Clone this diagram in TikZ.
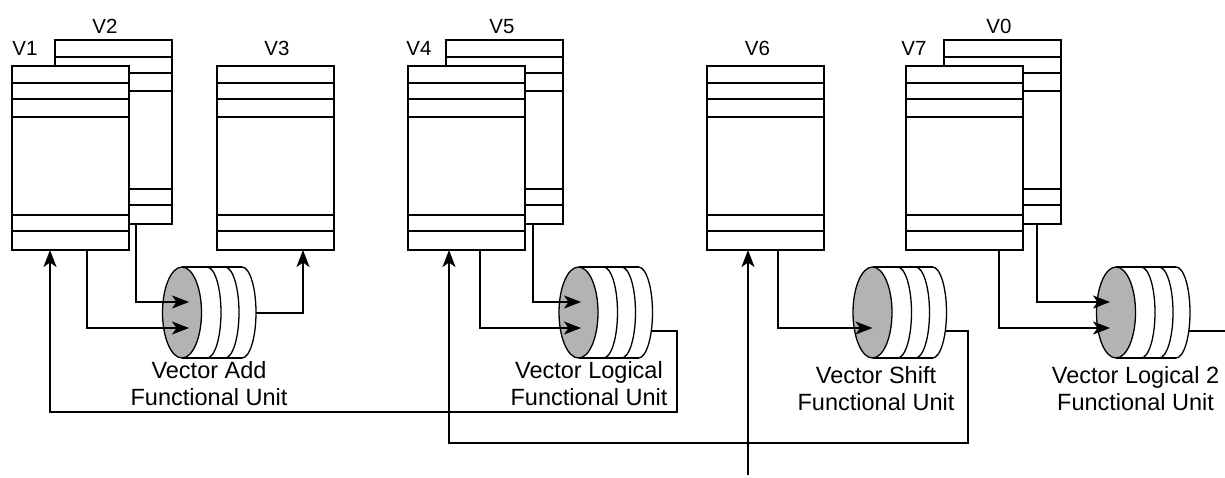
\documentclass[tikz,border=0pt]{standalone}
\usepackage{fontspec}
\setmainfont{Liberation Sans}
\usetikzlibrary{shapes.geometric,calc,arrows.meta}
\definecolor{unitgray}{RGB}{179,179,179}
\tikzset{
  regbox/.style={draw, fill=white, line width=2pt, minimum width=117pt, minimum height=184pt, inner sep=0pt, outer sep=0pt},
  regline/.style={line width=2pt},
  unitell/.style={ellipse, draw, fill=unitgray, line width=1.3pt, minimum width=39pt, minimum height=91pt, inner sep=0pt, outer sep=0pt},
  unitline/.style={line width=1.3pt},
  conn/.style={line width=2pt},
  arr/.style={conn, -{Stealth[length=17pt,width=13pt,inset=4.5pt]}},
  vlabel/.style={font=\fontsize{20.5}{24}\selectfont, anchor=base, inner sep=0pt},
  ulabel/.style={font=\fontsize{23.5}{28}\selectfont, anchor=base, inner sep=0pt},
}
\newcommand\regfile[3]{%
  \node[regbox, anchor=north west] (#1) at (#2,-#3) {};
  \foreach \dy in {17,33,51,149,165}{%
    \draw[regline] ($(#1.north west)+(0,-\dy)$) -- ($(#1.north east)+(0,-\dy)$);}
}
\newcommand\funit[2]{%
  \node[unitell] (#1) at (#2,-312.5) {};
  \draw[unitline] (#1.north) -- ++(60,0) (#1.south) -- ++(60,0);
  \foreach \ox in {25,43,60}{%
    \draw[unitline] ($(#1.north)+(\ox,0)$) arc[start angle=90,end angle=-90,x radius=14pt,y radius=45.5pt];}
}
\begin{document}
\begin{tikzpicture}[x=1pt,y=1pt]
\useasboundingbox (0,0) rectangle (1225,-477);
% register files (back ones first)
\regfile{V2}{55}{40}
\regfile{V1}{12}{66}
\regfile{V3}{217}{66}
\regfile{V5}{446}{40}
\regfile{V4}{408}{66}
\regfile{V6}{707}{66}
\regfile{V0}{944}{40}
\regfile{V7}{906}{66}
% labels
\node[vlabel] (lV1) at (25,-55) {V1};
\node[vlabel] (lV2) at (105,-33) {V2};
\node[vlabel] (lV3) at (277,-55) {V3};
\node[vlabel] (lV4) at (419,-55) {V4};
\node[vlabel] (lV5) at (502,-33) {V5};
\node[vlabel] (lV6) at (757.5,-55) {V6};
\node[vlabel] (lV7) at (914,-55) {V7};
\node[vlabel] (lV0) at (999,-33) {V0};
% functional units
\funit{addU}{182}
\funit{logU}{578.5}
\funit{shU}{872.5}
\funit{ltwoU}{1116}
\node[ulabel] (addL1) at (209,-378) {Vector Add};
\node[ulabel] (addL2) at (209,-405) {Functional Unit};
\node[ulabel] (logL1) at (589,-378) {Vector Logical};
\node[ulabel] (logL2) at (589,-405) {Functional Unit};
\node[ulabel] (shL1) at (876,-383) {Vector Shift};
\node[ulabel] (shL2) at (876,-410) {Functional Unit};
\node[ulabel] (ltwoL1) at (1135.5,-383) {Vector Logical 2};
\node[ulabel] (ltwoL2) at (1135.5,-410) {Functional Unit};
% connectors: add unit
\draw[arr] ($(V2.south west)+(81,0)$) |- ($(addU.center)+(7,10.5)$);
\draw[arr] ($(V1.south west)+(75,0)$) |- ($(addU.center)+(7,-15.5)$);
\draw[arr] ($(addU.center)+(74,0)$) -| ($(V3.south west)+(86,0)$);
% logical unit
\draw[arr] ($(V5.south west)+(87,0)$) |- ($(logU.center)+(2.5,10.5)$);
\draw[arr] ($(V4.south west)+(72,0)$) |- ($(logU.center)+(2.5,-15.5)$);
\coordinate (fbA) at (677,-412);
\draw[arr] ($(logU.center)+(73,-18.5)$) -| (fbA) -| ($(V1.south west)+(38,0)$);
% shift unit
\draw[arr] ($(V6.south west)+(71,0)$) |- ($(shU.center)+(0,-15.5)$);
\coordinate (fbB) at (968,-443);
\draw[arr] ($(shU.center)+(73,-18.5)$) -| (fbB) -| ($(V4.south west)+(41,0)$);
\coordinate (ext) at (748,-475);
\draw[arr] (ext) -- ($(V6.south west)+(41,0)$);
% logical 2 unit
\draw[arr] ($(V0.south west)+(93,0)$) |- ($(ltwoU.center)+(-6,10.5)$);
\draw[arr] ($(V7.south west)+(93,0)$) |- ($(ltwoU.center)+(-6,-15.5)$);
\coordinate (outB) at (1225,-331);
\draw[conn] ($(ltwoU.center)+(73,-18.5)$) -- (outB);
\end{tikzpicture}
\end{document}
